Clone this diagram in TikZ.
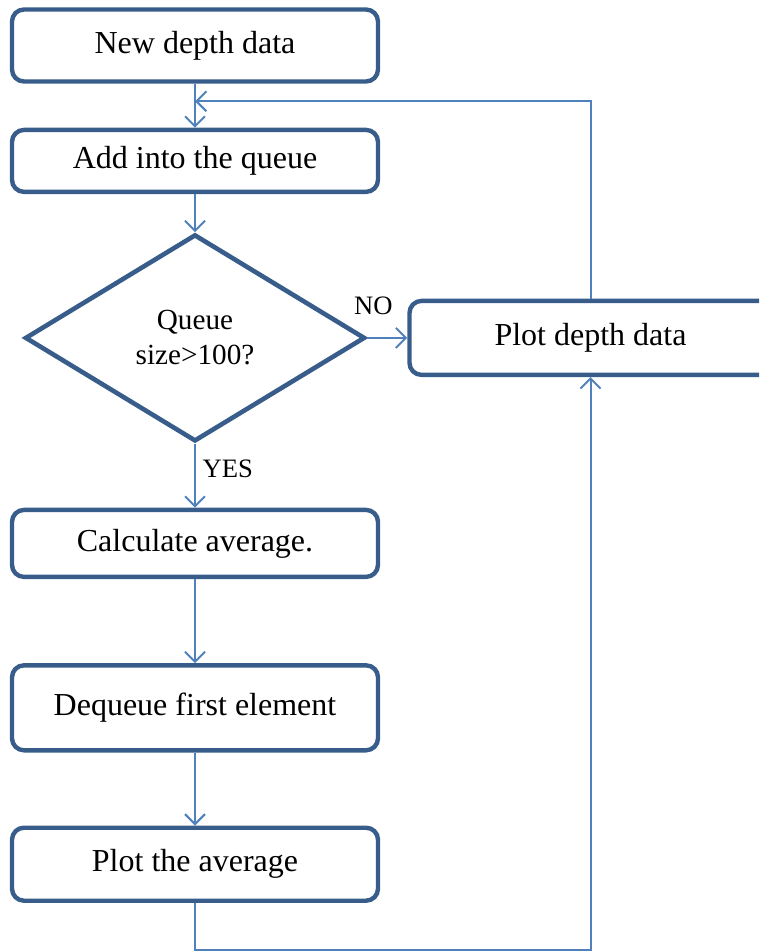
\documentclass[tikz,border=0pt]{standalone}
\usepackage{fontspec}
\setmainfont{Liberation Serif}
\usetikzlibrary{arrows.meta,positioning,shapes.geometric,calc}
\definecolor{boxline}{HTML}{385D8A}
\definecolor{flowline}{HTML}{4F81BD}
\begin{document}
\begin{tikzpicture}[
    font=\fontsize{16}{20}\selectfont,
    >={Straight Barb[length=5pt,width=10pt]},
    stepbox/.style={draw=boxline, line width=2.2pt, rounded corners=6pt, fill=white, minimum width=183pt, align=center},
    decision/.style={diamond, draw=boxline, line width=2.3pt, fill=white, minimum width=170pt, minimum height=103.5pt, inner sep=0pt, align=center, font=\fontsize{14.6}{17.5}\selectfont},
    flow/.style={draw=flowline, line width=1pt, ->},
    lbl/.style={font=\fontsize{13.3}{15}\selectfont}
]
\useasboundingbox (0,0) rectangle (379.5pt,-475.5pt);
\clip (0,0) rectangle (379.5pt,-475.5pt);
\node[stepbox, minimum height=36pt] (new) at (97.5pt,-22.75pt) {New depth data};
\node[stepbox, minimum height=31pt, below=22pt of new] (add) {Add into the queue};
\node[decision, below=19pt of add] (check) {Queue\\ size>100?};
\node[stepbox, minimum height=37pt, minimum width=181pt, right=20pt of check] (plot) {Plot depth data};
\node[stepbox, minimum height=33.5pt, below=32pt of check] (avg) {Calculate average.};
\node[stepbox, minimum height=42.5pt, below=42pt of avg] (deq) {Dequeue first element};
\node[stepbox, minimum height=36.5pt, below=36.5pt of deq] (plotavg) {Plot the average};
\coordinate (loopin) at ($(new.south)!0.4!(add.north)$);
\coordinate (floor) at ([yshift=-23.5pt]plotavg.south);
% main flow
\draw[flow] (new) -- (add);
\draw[flow] (add) -- (check);
\draw[flow] (check.east) -- (plot.west) node[lbl, pos=0.15, above=7.5pt] {NO};
\draw[flow] (check.south) -- (avg.north) node[lbl, pos=0.4, right] {YES};
\draw[flow] (avg) -- (deq);
\draw[flow] (deq) -- (plotavg);
% loops back
\draw[flow] (plot.north) |- (loopin);
\draw[flow] (plotavg.south) -- (floor) -| (plot.south);
\end{tikzpicture}
\end{document}
